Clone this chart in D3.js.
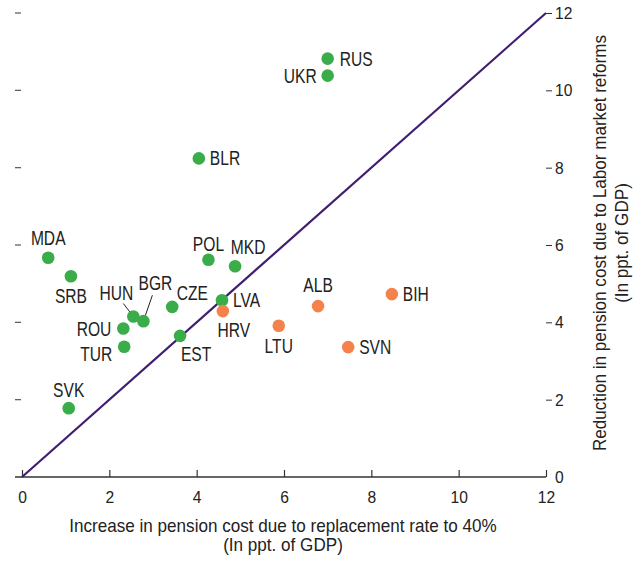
<!DOCTYPE html>
<html>
<head>
<meta charset="utf-8">
<script src="https://cdn.jsdelivr.net/npm/d3@7"></script>
<style>
  body { margin: 0; background: #fff; }
  svg { display: block; font-family: "Liberation Sans", Arial, sans-serif; }
</style>
</head>
<body>
<div id="chart"></div>
<script>
// country codes
const countries = ['RUS', 'UKR', 'BLR', 'MDA', 'SRB', 'POL', 'MKD', 'CZE', 'LVA', 'HUN',
    'BGR', 'ROU', 'TUR', 'EST', 'SVK', 'HRV', 'ALB', 'BIH', 'LTU', 'SVN'];
// increase in pension cost due to replacement rate to 40% (ppt of GDP)
const increaseCost = [7.0, 7.0, 4.05, 0.6, 1.12, 4.27, 4.88, 3.44, 4.58, 2.55,
    2.78, 2.32, 2.34, 3.62, 1.07, 4.6, 6.78, 8.47, 5.88, 7.47];
// reduction in pension cost due to labor market reforms (ppt of GDP)
const reductionCost = [10.82, 10.38, 8.24, 5.67, 5.19, 5.62, 5.45, 4.4, 4.57, 4.15,
    4.03, 3.84, 3.37, 3.65, 1.78, 4.29, 4.42, 4.73, 3.91, 3.36];
// green = above the 45 degree line, orange = below
const group = ['above', 'above', 'above', 'above', 'above', 'above', 'above', 'above', 'above', 'above',
    'above', 'above', 'above', 'above', 'above', 'below', 'below', 'below', 'below', 'below'];

const xTicks = [0, 2, 4, 6, 8, 10, 12];
const yTicks = [0, 2, 4, 6, 8, 10, 12];

const xTitle = ['Increase in pension cost due to replacement rate to 40%', '(In ppt. of GDP)'];
const yTitle = ['Reduction in pension cost due to Labor market reforms', '(In ppt. of GDP)'];

// label placement: [dx, dy, anchor] relative to the dot
const labelPos = {
    RUS: [12, 0, 'start'], UKR: [-11, 0, 'end'], BLR: [11, 0, 'start'],
    MDA: [0, -20, 'middle'], SRB: [0, 20, 'middle'], POL: [0, -16, 'middle'],
    MKD: [13, -19, 'middle'], CZE: [20, -14, 'middle'], LVA: [11, 0, 'start'],
    HUN: [-17, -24, 'middle'], BGR: [12, -38, 'middle'], ROU: [-12, 0, 'end'],
    TUR: [-12, 7, 'end'], EST: [16, 18, 'middle'], SVK: [0, -18, 'middle'],
    HRV: [11, 19, 'middle'], ALB: [0, -21, 'middle'], BIH: [11, 0, 'start'],
    LTU: [0, 20, 'middle'], SVN: [11, 0, 'start']
};
// leader lines for crowded labels: [x1, y1] offset from the dot
const leaders = {HUN: [-10, -13], BGR: [9, -26]};

const colors = {above: '#3aad4a', below: '#f4824a'};
const squeeze = 0.8; // the original uses a condensed face
const tickSqueeze = 0.92;
const titleSqueeze = 0.95;

const width = 635, height = 563;
const margin = {left: 22, right: 89, top: 13, bottom: 86};

const svg = d3.select('#chart').append('svg')
    .attr('width', width)
    .attr('height', height);

const x = d3.scaleLinear().domain([0, 12]).range([margin.left, width - margin.right]);
const y = d3.scaleLinear().domain([0, 12]).range([height - margin.bottom, margin.top]);

// bottom axis
const gx = svg.append('g')
    .attr('transform', 'translate(0,' + y(0) + ')')
    .call(d3.axisBottom(x).tickValues(xTicks).tickSize(0).tickPadding(0).tickFormat(d3.format('d')));
gx.select('.domain').remove();
gx.append('line')
    .attr('x1', x(0) - 7).attr('x2', x(12))
    .attr('stroke', '#333').attr('stroke-width', 1.3);
gx.selectAll('.tick').append('line')
    .attr('y1', 0).attr('y2', -7)
    .attr('stroke', '#333').attr('stroke-width', 1.2);
gx.selectAll('.tick text')
    .attr('y', null).attr('dy', null)
    .attr('transform', 'translate(0,26) scale(' + tickSqueeze + ',1)')
    .attr('font-size', 17).attr('fill', '#222')
    .attr('font-family', null);

// right axis
const gy = svg.append('g')
    .attr('transform', 'translate(' + x(12) + ',0)')
    .call(d3.axisRight(y).tickValues(yTicks).tickSize(6).tickPadding(0).tickFormat(d3.format('d')));
gy.select('.domain').remove();
gy.selectAll('.tick line').attr('stroke', '#333');
gy.selectAll('.tick').filter(d => d === 0).select('line').remove();
gy.selectAll('.tick text')
    .attr('x', null)
    .attr('transform', 'translate(9,0) scale(' + tickSqueeze + ',1)')
    .attr('font-size', 17).attr('fill', '#222')
    .attr('font-family', null);

// small dashes on the left edge
svg.append('g').selectAll('line')
    .data(yTicks.filter(d => d > 0))
    .join('line')
    .attr('x1', x(0) - 7).attr('x2', x(0) - 1)
    .attr('y1', d => y(d)).attr('y2', d => y(d))
    .attr('stroke', '#555').attr('stroke-width', 1.2);

// 45 degree line
svg.append('line')
    .attr('x1', x(0)).attr('y1', y(0))
    .attr('x2', x(12)).attr('y2', y(12))
    .attr('stroke', '#3f1d6f').attr('stroke-width', 2.2);

const pts = countries.map((c, i) => ({name: c, x: increaseCost[i], y: reductionCost[i], g: group[i]}));

// leader lines
svg.append('g').selectAll('line')
    .data(pts.filter(d => leaders[d.name]))
    .join('line')
    .attr('x1', d => x(d.x) + leaders[d.name][0])
    .attr('y1', d => y(d.y) + leaders[d.name][1])
    .attr('x2', d => x(d.x))
    .attr('y2', d => y(d.y))
    .attr('stroke', '#222').attr('stroke-width', 1);

svg.append('g').selectAll('circle')
    .data(pts)
    .join('circle')
    .attr('cx', d => x(d.x))
    .attr('cy', d => y(d.y))
    .attr('r', 6.3)
    .attr('fill', d => colors[d.g]);

svg.append('g').selectAll('text')
    .data(pts)
    .join('text')
    .attr('transform', d => 'translate(' + (x(d.x) + labelPos[d.name][0]) + ',' +
        (y(d.y) + labelPos[d.name][1]) + ') scale(' + squeeze + ',1)')
    .attr('dy', '0.36em')
    .attr('text-anchor', d => labelPos[d.name][2])
    .attr('font-size', 19.5)
    .attr('fill', '#222')
    .text(d => d.name);

// axis titles
svg.append('text')
    .attr('transform', 'translate(283,532) scale(' + titleSqueeze + ',1)')
    .attr('text-anchor', 'middle').attr('font-size', 18).attr('fill', '#222')
    .selectAll('tspan')
    .data(xTitle)
    .join('tspan')
    .attr('x', 0)
    .attr('dy', (d, i) => i === 0 ? 0 : 19)
    .text(d => d);

svg.append('text')
    .attr('transform', 'translate(606,243) rotate(-90) scale(' + titleSqueeze + ',1)')
    .attr('text-anchor', 'middle').attr('font-size', 18).attr('fill', '#222')
    .selectAll('tspan')
    .data(yTitle)
    .join('tspan')
    .attr('x', 0)
    .attr('dy', (d, i) => i === 0 ? 0 : 22)
    .text(d => d);
</script>
</body>
</html>
